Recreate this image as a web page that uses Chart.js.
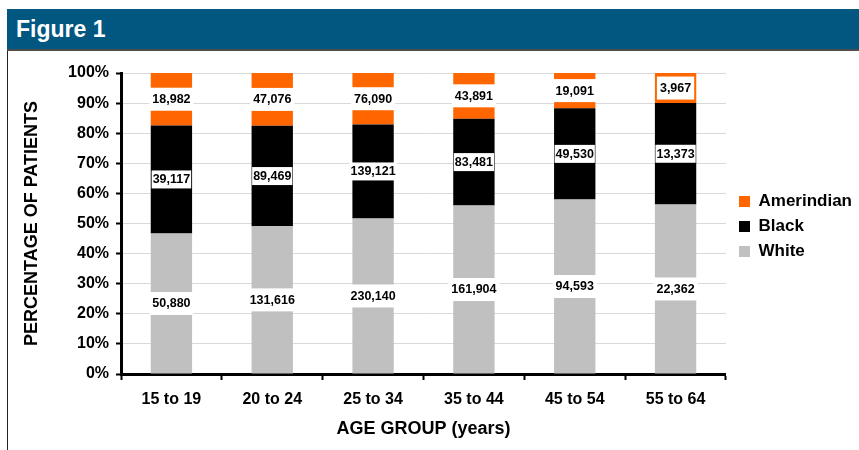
<!DOCTYPE html>
<html>
<head>
<meta charset="utf-8">
<title>Figure 1</title>
<script src="https://cdn.jsdelivr.net/npm/chart.js@4.4.1/dist/chart.umd.min.js"></script>
<style>
  body { margin: 0; background: #fff; width: 859px; height: 450px; position: relative; overflow: hidden; font-family: "Liberation Sans", Arial, sans-serif; }
  #band { position: absolute; left: 7px; top: 9px; width: 852px; height: 40px; background: #01577f; border-bottom: 2px solid #4d4d4d; }
  #band span { position: absolute; left: 9px; top: 7px; color: #fff; font-weight: bold; font-size: 23px; }
  #edge { position: absolute; left: 7px; top: 51px; width: 1px; height: 399px; background: #222; }
  #wrap { position: absolute; left: 9px; top: 51px; width: 850px; height: 399px; }
</style>
</head>
<body>
<div id="band"><span>Figure 1</span></div>
<div id="edge"></div>
<div id="wrap"><canvas id="chart1"></canvas></div>
<script>
  // patient counts per age group
  const ageGroups = ["15 to 19", "20 to 24", "25 to 34", "35 to 44", "45 to 54", "55 to 64"];
  const whiteCounts = [50880, 131616, 230140, 161904, 94593, 22362];
  const blackCounts = [39117, 89469, 139121, 83481, 49530, 13373];
  const amerindianCounts = [18982, 47076, 76090, 43891, 19091, 3967];

  const FONT = "'Liberation Sans', Arial, sans-serif";

  // share of each group (100% stacked)
  function share(counts) {
    return counts.map((c, i) => 100 * c / (whiteCounts[i] + blackCounts[i] + amerindianCounts[i]));
  }

  const labelBoxes = {
    id: "labelBoxes",
    afterDatasetsDraw(chart) {
      const ctx = chart.ctx;
      ctx.save();
      ctx.font = "bold 12.5px " + FONT;
      ctx.textAlign = "center";
      ctx.textBaseline = "middle";
      chart.data.datasets.forEach((ds, i) => {
        const meta = chart.getDatasetMeta(i);
        meta.data.forEach((bar, j) => {
          const txt = ds.counts[j].toLocaleString("en-US");
          const cy = (bar.y + bar.base) / 2;
          const w = ctx.measureText(txt).width + ds.padX * 2;
          const h = ds.boxH;
          ctx.fillStyle = "#fff";
          ctx.fillRect(bar.x - w / 2, cy - h / 2, w, h);
          ctx.fillStyle = "#000";
          ctx.fillText(txt, bar.x, cy + 0.5);
        });
      });
      ctx.restore();
    }
  };

  // nudge the legend a little right and down
  const moveLegend = {
    id: "moveLegend",
    afterLayout(chart) {
      const lg = chart.legend;
      lg.left += 5; lg.right += 5;
      lg.top += 3; lg.bottom += 3;
    }
  };

  new Chart("chart1", {
    type: "bar",
    data: {
      labels: ageGroups,
      datasets: [
        { label: "White", data: share(whiteCounts), counts: whiteCounts, backgroundColor: "#c0c0c0", padX: 3, boxH: 23 },
        { label: "Black", data: share(blackCounts), counts: blackCounts, backgroundColor: "#000000", padX: 1, boxH: 18 },
        { label: "Amerindian", data: share(amerindianCounts), counts: amerindianCounts, backgroundColor: "#ff6600", padX: 3, boxH: 23 }
      ]
    },
    options: {
      responsive: true,
      maintainAspectRatio: false,
      animation: false,
      barPercentage: 0.41,
      categoryPercentage: 1,
      layout: { padding: { left: 12, top: 22, right: 2, bottom: 10 } },
      plugins: {
        tooltip: { enabled: false },
        legend: {
          position: "right",
          fullSize: false,
          reverse: true,
          labels: {
            boxWidth: 11,
            boxHeight: 11,
            padding: 8,
            color: "#000",
            font: { family: FONT, size: 17, weight: "bold" }
          }
        }
      },
      scales: {
        x: {
          stacked: true,
          afterFit(s) { s.height = 66; },
          grid: { display: true, drawOnChartArea: false, drawTicks: true, tickLength: 6, tickColor: "#000", tickWidth: 2 },
          border: { display: true, color: "#000", width: 3 },
          ticks: { color: "#000", padding: 10, font: { family: FONT, size: 16, weight: "bold" } },
          title: { display: true, text: "AGE GROUP (years)", color: "#000", padding: 0, font: { family: FONT, size: 18, weight: "bold" } }
        },
        y: {
          stacked: true,
          min: 0,
          max: 100,
          afterFit(s) { s.width = 100; },
          grid: { color: "#d9d9d9", lineWidth: 1, tickLength: 5, tickColor: "#000", tickWidth: 2 },
          border: { display: true, color: "#000", width: 3 },
          ticks: {
            stepSize: 10,
            color: "#000",
            padding: 7,
            font: { family: FONT, size: 16, weight: "bold" },
            callback: v => v + "%"
          },
          title: { display: true, text: "PERCENTAGE OF PATIENTS", color: "#000", padding: 0, font: { family: FONT, size: 18, weight: "bold" } }
        }
      }
    },
    plugins: [labelBoxes, moveLegend]
  });
</script>
</body>
</html>
